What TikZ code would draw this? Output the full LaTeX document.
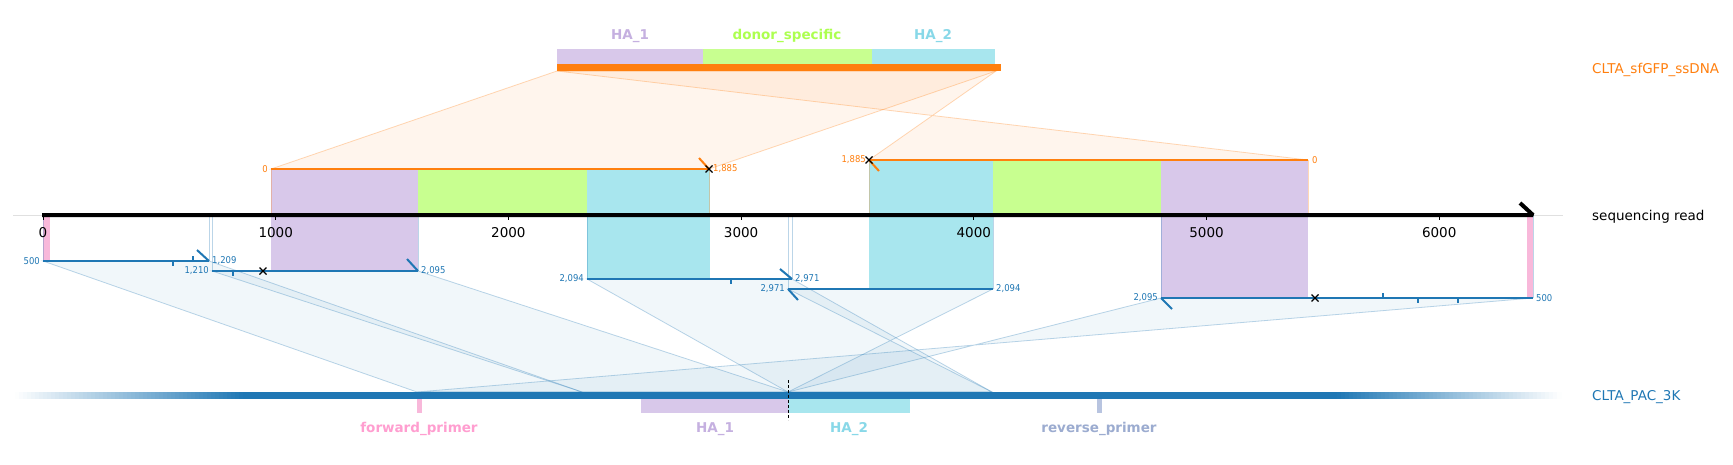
\documentclass[tikz,border=0pt]{standalone}
\usepackage{fontspec}
\setmainfont{DejaVu Sans}
\IfFontExistsTF{DejaVu Sans Condensed}
  {\newfontfamily\poslblfont{DejaVu Sans Condensed}}
  {\newfontfamily\poslblfont[FakeStretch=0.9]{DejaVu Sans}}

\definecolor{ssorange}{HTML}{FF7F0E}
\definecolor{pacblue}{HTML}{1F77B4}
\definecolor{hapurple}{HTML}{D8C8EA}
\definecolor{hapurpletxt}{HTML}{C5B0E0}
\definecolor{donorgreen}{HTML}{C8FF90}
\definecolor{donorgreentxt}{HTML}{ADFF50}
\definecolor{hacyan}{HTML}{A8E6EE}
\definecolor{hacyantxt}{HTML}{88D8E8}
\definecolor{primerpink}{HTML}{F8B8DA}
\definecolor{primerpinktxt}{HTML}{FF9ED0}
\definecolor{primergray}{HTML}{B8C4E0}
\definecolor{primergraytxt}{HTML}{9CACD0}

\begin{document}
\begin{tikzpicture}[x=1pt,y=-1pt,
    lbl/.style={font=\fontsize{13.5}{16}\selectfont,inner sep=0pt},
    featlbl/.style={font=\fontsize{13.5}{16}\selectfont\bfseries,inner sep=0pt},
    poslbl/.style={font=\poslblfont\fontsize{9.4}{11}\selectfont,inner sep=0pt},
    bluefan/.style={fill=pacblue,fill opacity=0.06,draw=pacblue,draw opacity=0.3,line width=0.8pt},
    orangefan/.style={fill=ssorange,fill opacity=0.07,draw=ssorange,draw opacity=0.3,line width=0.8pt},
    blueedge/.style={draw=pacblue,draw opacity=0.3,line width=0.8pt},
    orangeedge/.style={draw=ssorange,draw opacity=0.3,line width=0.8pt},
    blueseg/.style={draw=pacblue,line width=2pt},
    orangeseg/.style={draw=ssorange,line width=2pt},
    segtick/.style={draw=pacblue,line width=1.5pt},
    cutx/.pic={\draw[black,line width=1.2pt] (-3.5,-3.5) -- (3.5,3.5) (-3.5,3.5) -- (3.5,-3.5);}]
  \useasboundingbox (0,0) rectangle (1733,464);
  \fill[white] (0,0) rectangle (1733,464);

  % alignment ends on the sequencing read
  \coordinate (b1s) at (43,261);   \coordinate (b1e) at (209,261);
  \coordinate (b2s) at (212,271);  \coordinate (b2e) at (418,271);
  \coordinate (b3s) at (587,279);  \coordinate (b3e) at (792,279);
  \coordinate (b4s) at (788,289);  \coordinate (b4e) at (993,289);
  \coordinate (b5s) at (1161,298); \coordinate (b5e) at (1533,298);
  \coordinate (o1s) at (271,169);  \coordinate (o1e) at (709,169);
  \coordinate (o2s) at (869,160);  \coordinate (o2e) at (1308,160);
  % positions on CLTA_sfGFP_ssDNA
  \coordinate (ss0) at (557,71);
  \coordinate (ss1885) at (996,71);
  % positions on CLTA_PAC_3K
  \coordinate (pac500) at (417,392);
  \coordinate (pac1209) at (582,392);
  \coordinate (pac2095) at (788,392);
  \coordinate (pac2971) at (992,392);

  % faint read baseline
  \draw[black!12,line width=0.8pt] (13,215) -- (1563,215);

  % fans to the references
  \draw[orangefan] (o1s) -- (o1e) -- (ss1885) -- (ss0) -- cycle;
  \draw[orangefan] (o2s) -- (o2e) -- (ss0) -- (ss1885) -- cycle;
  \draw[bluefan] (b1s) -- (b1e) -- (pac1209) -- (pac500) -- cycle;
  \draw[bluefan] (b2s) -- (b2e) -- (pac2095) -- (pac1209) -- cycle;
  \draw[bluefan] (b3s) -- (b3e) -- (pac2971) -- (pac2095) -- cycle;
  \draw[bluefan] (b4s) -- (b4e) -- (pac2095) -- (pac2971) -- cycle;
  \draw[bluefan] (b5s) -- (b5e) -- (pac500) -- (pac2095) -- cycle;

  % features projected onto the read
  \fill[hapurple]   (271,169) rectangle (418,215);
  \fill[donorgreen] (418,169) rectangle (587,215);
  \fill[hacyan]     (587,169) rectangle (710,215);
  \fill[hacyan]     (869,160) rectangle (993,215);
  \fill[donorgreen] (993,160) rectangle (1161,215);
  \fill[hapurple]   (1161,160) rectangle (1308,215);
  \fill[primerpink] (43,215) rectangle (50,261);
  \fill[hapurple]   (271,215) rectangle (418,271);
  \fill[hacyan]     (587,215) rectangle (710,279);
  \fill[hacyan]     (869,215) rectangle (993,289);
  \fill[hapurple]   (1161,215) rectangle (1308,298);
  \fill[primerpink] (1527,215) rectangle (1533,298);

  % edges between segments and read
  \foreach \c in {o1s,o1e,o2s,o2e}
    \draw[orangeedge] (\c) -- (\c |- 0,215);
  \foreach \c in {b1s,b1e,b2s,b2e,b3s,b3e,b4s,b4e,b5s,b5e}
    \draw[blueedge] (\c) -- (\c |- 0,215);

  % ssDNA segments
  \draw[orangeseg] (o1s) -- (o1e);
  \draw[orangeseg] (o1e) -- ++(-10,-11);
  \draw[orangeseg] (o2s) -- (o2e);
  \draw[orangeseg] (o2s) -- ++(10,11);
  \node[poslbl,text=ssorange,anchor=east] (o1sl) at (268,169) {0};
  \node[poslbl,text=ssorange,anchor=west] (o1el) at (713,169) {1,885};
  \node[poslbl,text=ssorange,anchor=east] (o2sl) at (866,160) {1,885};
  \node[poslbl,text=ssorange,anchor=west] (o2el) at (1312,160) {0};

  % PAC_3K segments
  \draw[blueseg] (b1s) -- (b1e);
  \draw[blueseg] (b1e) -- ++(-12,-11);
  \draw[blueseg] (b2s) -- (b2e);
  \draw[blueseg] (b2e) -- ++(-11,-12);
  \draw[blueseg] (b3s) -- (b3e);
  \draw[blueseg] (b3e) -- ++(-12,-10);
  \draw[blueseg] (b4s) -- (b4e);
  \draw[blueseg] (b4s) -- ++(10,11);
  \draw[blueseg] (b5s) -- (b5e);
  \draw[blueseg] (b5s) -- ++(11,11);
  \draw[segtick] (173,261) -- (173,266);
  \draw[segtick] (193,256) -- (193,261);
  \draw[segtick] (233,271) -- (233,276);
  \draw[segtick] (731,279) -- (731,284);
  \draw[segtick] (1383,293) -- (1383,298);
  \draw[segtick] (1418,298) -- (1418,303);
  \draw[segtick] (1458,298) -- (1458,303);
  \node[poslbl,text=pacblue,anchor=east] (b1sl) at (40,261) {500};
  \node[poslbl,text=pacblue,anchor=west] (b1el) at (212,261) {1,209};
  \node[poslbl,text=pacblue,anchor=east] (b2sl) at (209,271) {1,210};
  \node[poslbl,text=pacblue,anchor=west] (b2el) at (421,271) {2,095};
  \node[poslbl,text=pacblue,anchor=east] (b3sl) at (584,279) {2,094};
  \node[poslbl,text=pacblue,anchor=west] (b3el) at (795,279) {2,971};
  \node[poslbl,text=pacblue,anchor=east] (b4sl) at (785,289) {2,971};
  \node[poslbl,text=pacblue,anchor=west] (b4el) at (996,289) {2,094};
  \node[poslbl,text=pacblue,anchor=east] (b5sl) at (1158,298) {2,095};
  \node[poslbl,text=pacblue,anchor=west] (b5el) at (1536,298) {500};

  % mismatch marks
  \pic at (263,271) {cutx};
  \pic at (o1e) {cutx};
  \pic at (o2s) {cutx};
  \pic at (1315,298) {cutx};

  % sequencing read axis
  \draw[black,line width=4pt,line join=bevel] (42,215) -- (1533,215) -- (1520,203);
  \foreach \k/\v in {0/0,1/1000,2/2000,3/3000,4/4000,5/5000,6/6000} {
    \draw[black,line width=1pt] ({43+232.7*\k},217) -- ({43+232.7*\k},220);
    \node[lbl,anchor=north] (tick\k) at ({43+232.7*\k},227) {\v};
  }

  % CLTA_sfGFP_ssDNA
  \fill[hapurple]   (557,49) rectangle (703,64);
  \fill[donorgreen] (703,49) rectangle (872,64);
  \fill[hacyan]     (872,49) rectangle (995,64);
  \fill[ssorange]   (557,64) rectangle (1001,71);
  \node[featlbl,text=hapurpletxt,anchor=base] (ssha1) at (630,39.5) {HA\_1};
  \node[featlbl,text=donorgreentxt,anchor=base] (ssdonor) at (787,39.5) {donor\_specific};
  \node[featlbl,text=hacyantxt,anchor=base] (ssha2) at (933,39.5) {HA\_2};

  % CLTA_PAC_3K, faded at both ends
  \foreach \i [evaluate=\i as \p using {100*(\i+0.5)/57}] in {0,...,56}
    \fill[pacblue!\p!white] ({15+4*\i},392) rectangle ({19.5+4*\i},399);
  \fill[pacblue] (243,392) rectangle (1337,399);
  \foreach \i [evaluate=\i as \p using {100*(55.5-\i)/56}] in {0,...,55}
    \fill[pacblue!\p!white] ({1337+4*\i},392) rectangle ({1341.5+4*\i},399);
  \fill[primerpink] (417,399) rectangle (422,413);
  \fill[hapurple]   (641,399) rectangle (788,413);
  \fill[hacyan]     (788,399) rectangle (910,413);
  \fill[primergray] (1097,399) rectangle (1102,413);
  \draw[black,line width=1pt,dash pattern=on 3pt off 2pt] (788,380) -- (788,420);
  \node[featlbl,text=primerpinktxt,anchor=base] (pacfwd) at (419,432) {forward\_primer};
  \node[featlbl,text=hapurpletxt,anchor=base] (pacha1) at (715,432) {HA\_1};
  \node[featlbl,text=hacyantxt,anchor=base] (pacha2) at (849,432) {HA\_2};
  \node[featlbl,text=primergraytxt,anchor=base] (pacrev) at (1099,432) {reverse\_primer};

  % track names
  \node[lbl,text=ssorange,anchor=base west] (nmss) at (1592,73) {CLTA\_sfGFP\_ssDNA};
  \node[lbl,anchor=base west] (nmread) at (1592,220) {sequencing read};
  \node[lbl,text=pacblue,anchor=base west] (nmpac) at (1592,400) {CLTA\_PAC\_3K};
\end{tikzpicture}
\end{document}
